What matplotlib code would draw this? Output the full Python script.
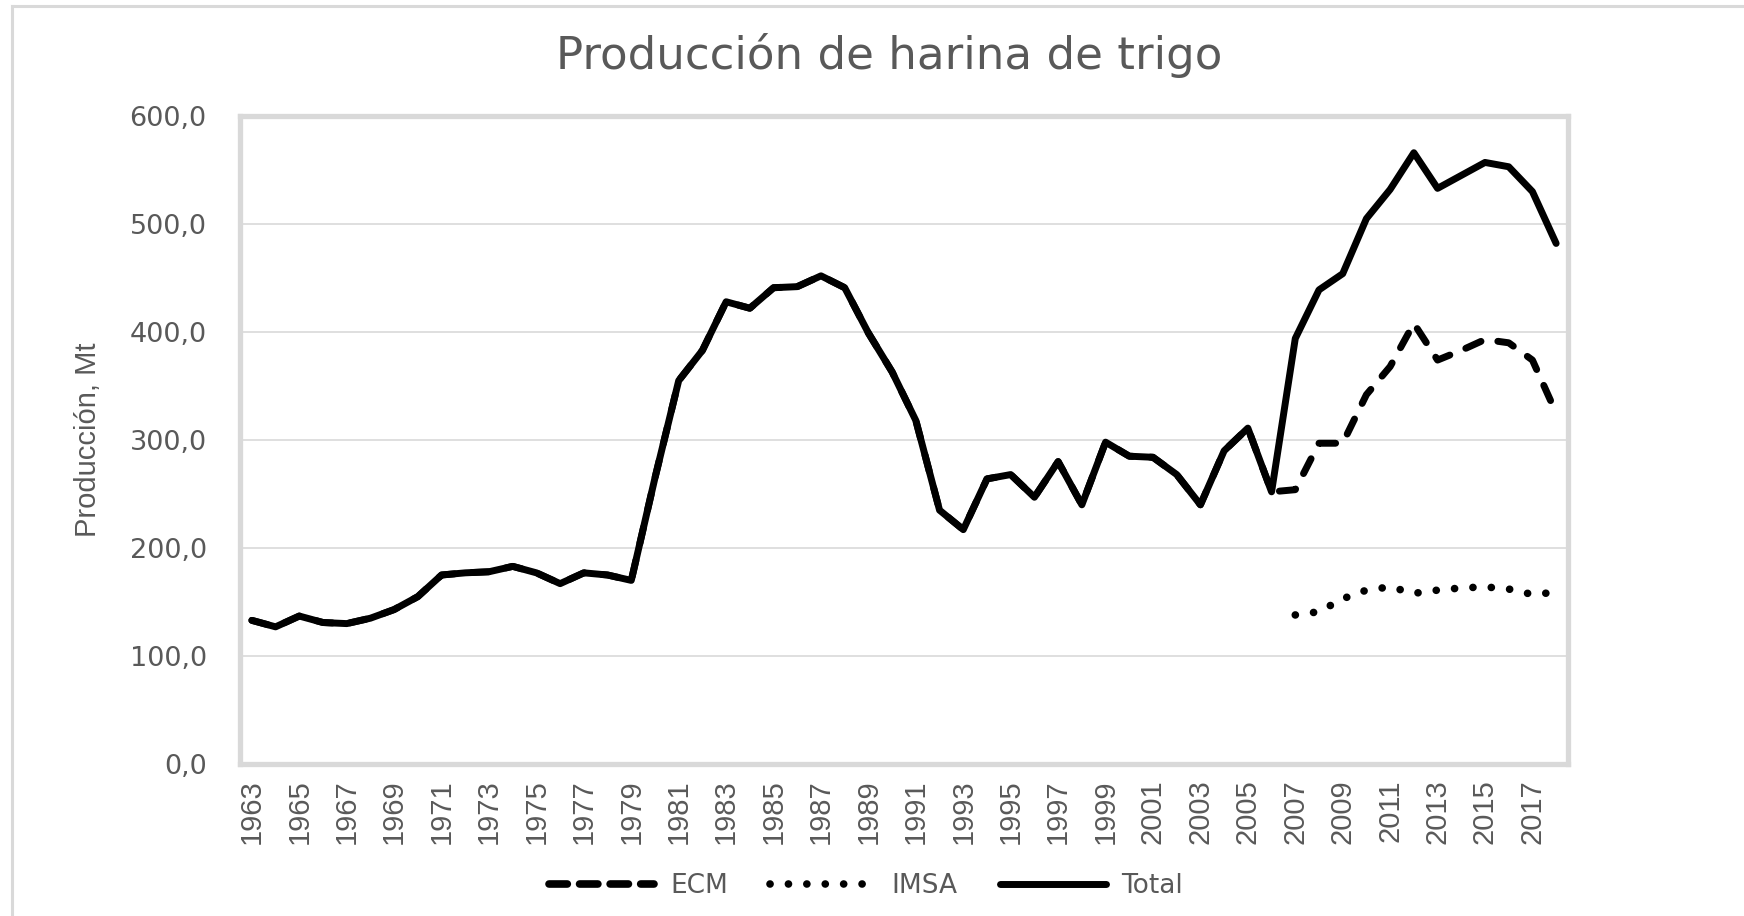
import matplotlib
matplotlib.use("Agg")
import matplotlib.pyplot as plt
from matplotlib.lines import Line2D

# data (Mt per year)
years = list(range(1963, 2019))
total = [133, 127, 137, 131, 130, 135, 143, 155, 175, 177, 178, 183, 177, 167, 177, 175, 170,
         265, 355, 383, 428, 422, 441, 442, 452, 441, 399, 363, 318, 235, 217, 264, 268, 247,
         280, 240, 298, 285, 284, 268, 240, 290, 311, 252,
         394, 439, 454, 505, 532, 566, 533, 545, 557, 553, 530, 482]
ecm = [133, 127, 137, 131, 130, 135, 143, 155, 175, 177, 178, 183, 177, 167, 177, 175, 170,
       265, 355, 383, 428, 422, 441, 442, 452, 441, 399, 363, 318, 235, 217, 264, 268, 247,
       280, 240, 298, 285, 284, 268, 240, 290, 311, 252,
       254, 297, 297, 342, 368, 408, 374, 383, 393, 390, 374, 325]
imsa_years = list(range(2007, 2019))
imsa = [138, 141, 153, 161, 164, 158, 161, 163, 164, 162, 157, 159]

grey_txt = "#595959"
grey_line = "#d9d9d9"
narrow = ["Liberation Sans", "DejaVu Sans"]

fig = plt.figure(figsize=(17.44, 9.16), dpi=100)
ax = fig.add_axes([240 / 1744, 1 - 764 / 916, (1568 - 240) / 1744, (764 - 116) / 916])

x_all = [y - 1963 for y in years]
x_imsa = [y - 1963 for y in imsa_years]

ax.plot(x_all, ecm, color="black", lw=5, dashes=(2.4, 2.5),
        dash_capstyle="round", dash_joinstyle="round", zorder=3)
ax.plot(x_imsa, imsa, color="black", lw=5.5, dashes=(0.01, 2.4),
        dash_capstyle="round", zorder=3)
ax.plot(x_all, total, color="black", lw=5, solid_joinstyle="round",
        solid_capstyle="round", zorder=4)

ax.set_xlim(-0.5, len(years) - 0.5)
ax.set_ylim(0, 600)
ax.set_yticks(range(0, 601, 100))
ax.set_yticklabels([f"{v},0" for v in range(0, 601, 100)])
ax.set_xticks(x_all[::2])
ax.set_xticklabels([str(y) for y in years[::2]], rotation=90)
ax.tick_params(axis="both", length=0, colors=grey_txt)
ax.tick_params(axis="y", pad=24, labelsize=19.5)
ax.tick_params(axis="x", pad=11, labelsize=21)
for lab in ax.get_xticklabels():
    lab.set_family(narrow)

ax.grid(axis="y", color=grey_line, lw=1.2)
ax.set_axisbelow(True)
for s in ax.spines.values():
    s.set_color(grey_line)
    s.set_linewidth(3.8)

fig.text(88 / 1744, 1 - 440 / 916, "Producción, Mt", rotation=90, ha="center", va="center",
         color=grey_txt, fontsize=21, family=narrow)
fig.text(889 / 1744, 1 - 56 / 916, "Producción de harina de trigo", ha="center", va="center",
         color=grey_txt, fontsize=32.5)

# outer chart frame
fig.add_artist(Line2D([12 / 1744, 12 / 1744], [0, 1 - 6 / 916], color=grey_line, lw=2.2,
                      transform=fig.transFigure))
fig.add_artist(Line2D([12 / 1744, 1], [1 - 6 / 916, 1 - 6 / 916], color=grey_line, lw=2.2,
                      transform=fig.transFigure))

handles = [
    Line2D([], [], color="black", lw=5.5, dashes=(2.4, 1.6), dash_capstyle="round"),
    Line2D([], [], color="black", lw=5.5, dashes=(0.01, 2.4), dash_capstyle="round"),
    Line2D([], [], color="black", lw=5, solid_capstyle="round"),
]
leg = fig.legend(handles, ["ECM", "IMSA", "Total"], loc="center", ncol=3, frameon=False,
                 bbox_to_anchor=(866 / 1744, 1 - 886 / 916), fontsize=19,
                 handlelength=4.0, handletextpad=0.6, columnspacing=1.6)
for t in leg.get_texts():
    t.set_color(grey_txt)

fig.savefig("out.png", dpi=100)
